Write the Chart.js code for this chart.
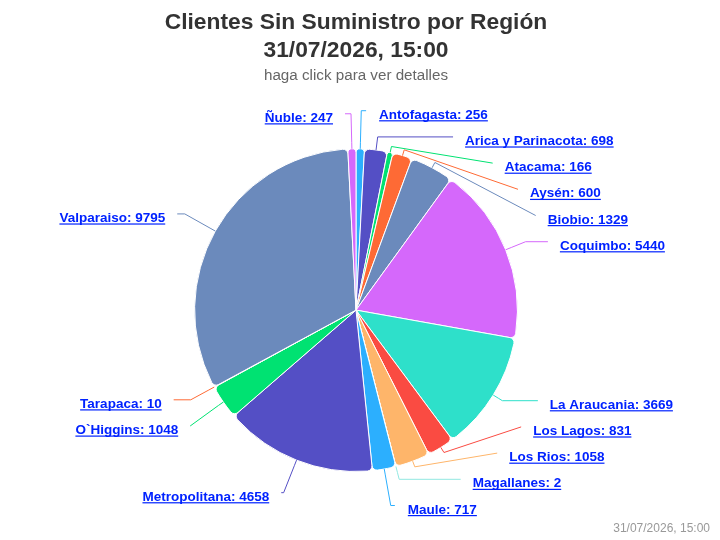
<!DOCTYPE html>
<html>
<head>
<meta charset="utf-8">
<script src="https://cdn.jsdelivr.net/npm/chart.js@4"></script>
<style>
  html, body { margin: 0; padding: 0; background: #fff; }
</style>
</head>
<body>
<canvas id="grafico" width="720" height="540"></canvas>
<script>
const regiones = ['Antofagasta', 'Arica y Parinacota', 'Atacama', 'Aysén', 'Biobio', 'Coquimbo',
  'La Araucania', 'Los Lagos', 'Los Rios', 'Magallanes', 'Maule', 'Metropolitana',
  'O`Higgins', 'Tarapaca', 'Valparaiso', 'Ñuble'];
const clientes = [256, 698, 166, 600, 1329, 5440, 3669, 831, 1058, 2, 717, 4658, 1048, 10, 9795, 247];
const paleta = ['#2caffe', '#544fc5', '#00e272', '#fe6a35', '#6b8abc', '#d568fb', '#2ee0ca', '#fa4b42', '#feb56a', '#91e8e1'];
const titulo = ['Clientes Sin Suministro por Región', '31/07/2026, 15:00'];
const subtitulo = 'haga click para ver detalles';
const credito = '31/07/2026, 15:00';

const colores = regiones.map((r, i) => paleta[i % paleta.length]);

Chart.defaults.font.family = '"Liberation Sans", Arial, sans-serif';

// reparte las etiquetas de un lado para que no se monten (como hace highcharts)
function distribuir(puntos, minY, maxY, alto) {
  let grupos = puntos.map(p => ({ items: [p] }));
  let solapa = true;
  while (solapa) {
    grupos.forEach(g => {
      const n = g.items.length;
      const media = g.items.reduce((s, p) => s + p.objetivo, 0) / n;
      let inicio = media - (n - 1) * alto / 2;
      inicio = Math.max(minY, Math.min(inicio, maxY - (n - 1) * alto));
      g.inicio = inicio;
    });
    solapa = false;
    for (let i = 1; i < grupos.length; i++) {
      const prev = grupos[i - 1];
      if (prev.inicio + prev.items.length * alto > grupos[i].inicio) {
        prev.items = prev.items.concat(grupos[i].items);
        grupos.splice(i, 1);
        solapa = true;
        break;
      }
    }
  }
  grupos.forEach(g => g.items.forEach((p, j) => { p.y = g.inicio + j * alto; }));
}

const etiquetasPie = {
  id: 'etiquetasPie',
  afterDatasetsDraw(chart) {
    const arcos = chart.getDatasetMeta(0).data;
    if (!arcos.length) return;
    const ctx = chart.ctx;
    const cx = arcos[0].x, cy = arcos[0].y, r = arcos[0].outerRadius;
    const R = r + 32;
    const Ry = r + 35;
    const alto = 26.2;
    const minY = cy - r - 38, maxY = cy + r + 34;

    const puntos = arcos.map((arco, i) => {
      const a = (arco.startAngle + arco.endAngle) / 2;
      const cos = Math.cos(a), sin = Math.sin(a);
      return { i, cos, sin, lado: cos >= 0 ? 1 : -1, objetivo: cy + sin * Ry };
    });
    [1, -1].forEach(lado => {
      const grupo = puntos.filter(p => p.lado === lado).sort((p, q) => p.objetivo - q.objetivo);
      distribuir(grupo, minY, maxY, alto);
    });

    ctx.save();
    ctx.font = 'bold 13.5px "Liberation Sans", Arial, sans-serif';
    puntos.forEach(p => {
      const lado = p.lado;
      const extremo = p.y <= minY + 2 || p.y >= maxY - 2;
      let ax;
      if (extremo) {
        ax = cx + p.cos * R;
      } else {
        const dy = Math.max(-R, Math.min(R, p.y - cy));
        ax = cx + lado * Math.sqrt(R * R - dy * dy);
      }
      const finCon = ax + lado * (extremo ? 5 : 11);
      const xTexto = ax + lado * (extremo ? 18 : 23);
      const toca = { x: cx + p.cos * r, y: cy + p.sin * r };
      const quiebre = { x: cx + p.cos * (r + 6), y: cy + p.sin * (r + 6) };
      const crookX = cx + (p.y - cy) * p.cos / p.sin;

      ctx.beginPath();
      ctx.moveTo(finCon, p.y);
      if (lado > 0 ? (crookX <= finCon && crookX >= quiebre.x) : (crookX >= finCon && crookX <= quiebre.x)) {
        ctx.lineTo(crookX, p.y);
      }
      ctx.lineTo(quiebre.x, quiebre.y);
      ctx.lineTo(toca.x, toca.y);
      ctx.strokeStyle = colores[p.i];
      ctx.lineWidth = 1;
      ctx.stroke();

      const texto = regiones[p.i] + ': ' + clientes[p.i];
      const ancho = ctx.measureText(texto).width;
      ctx.fillStyle = '#0022ff';
      ctx.textAlign = lado > 0 ? 'left' : 'right';
      ctx.textBaseline = 'alphabetic';
      ctx.fillText(texto, xTexto, p.y + 8);
      const x0 = lado > 0 ? xTexto : xTexto - ancho;
      ctx.fillRect(x0, p.y + 9.5, ancho, 1.2);
    });
    ctx.restore();
  }
};

const creditos = {
  id: 'creditos',
  afterDraw(chart) {
    const ctx = chart.ctx;
    ctx.save();
    ctx.font = '12px "Liberation Sans", Arial, sans-serif';
    ctx.fillStyle = '#999999';
    ctx.textAlign = 'right';
    ctx.textBaseline = 'alphabetic';
    ctx.fillText(credito, chart.width - 10, chart.height - 8);
    ctx.restore();
  }
};

new Chart('grafico', {
  type: 'pie',
  data: {
    labels: regiones,
    datasets: [{
      data: clientes,
      backgroundColor: colores,
      borderColor: '#ffffff',
      borderWidth: 1,
      borderRadius: 5
    }]
  },
  options: {
    responsive: false,
    animation: false,
    events: [],
    layout: { padding: { top: 0, left: 0, right: 8, bottom: 68 } },
    plugins: {
      legend: { display: false },
      tooltip: { enabled: false },
      title: {
        display: true,
        text: titulo,
        color: '#333333',
        font: { size: 22.8, weight: 'bold', lineHeight: 1.21 },
        padding: { top: 9.2, bottom: 0 }
      },
      subtitle: {
        display: true,
        text: subtitulo,
        color: '#666666',
        font: { size: 15.2, lineHeight: 1.2 },
        padding: { top: 2.4, bottom: 63.2 }
      }
    }
  },
  plugins: [etiquetasPie, creditos]
});
</script>
</body>
</html>
